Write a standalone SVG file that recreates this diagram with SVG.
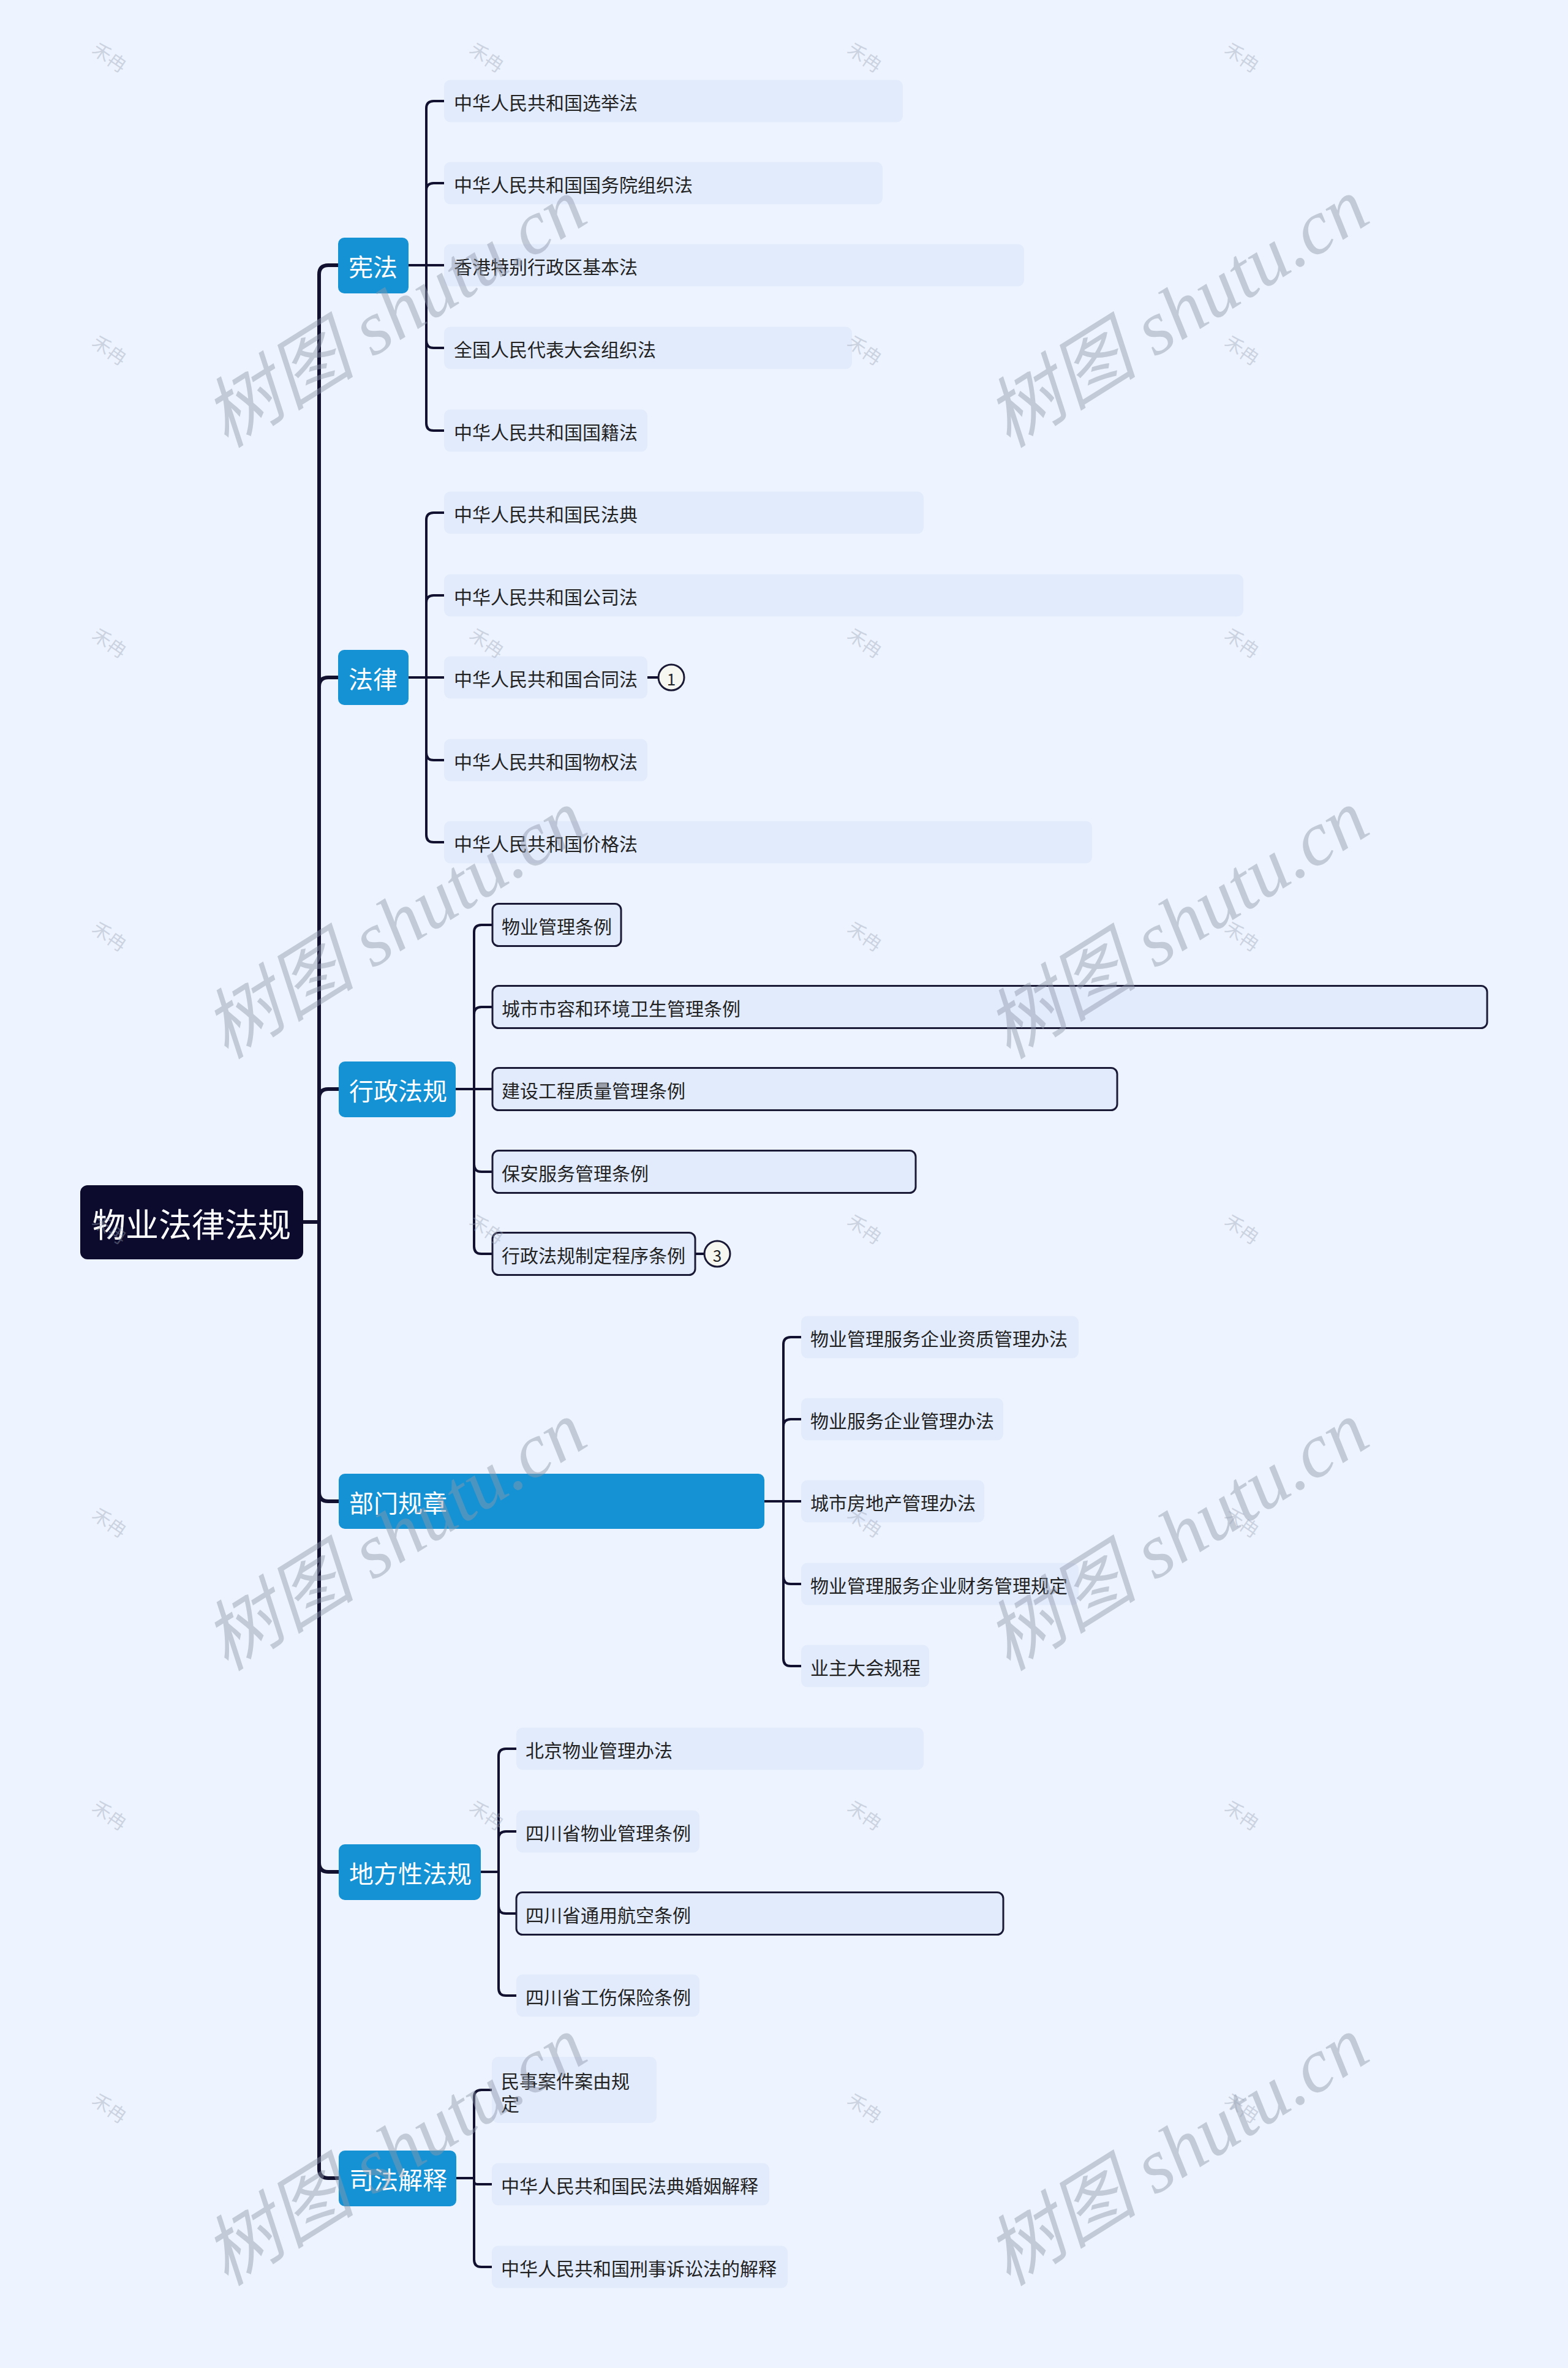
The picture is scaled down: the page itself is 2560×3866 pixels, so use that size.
<svg xmlns="http://www.w3.org/2000/svg" width="2560" height="3866" viewBox="0 0 2560 3866">
<style>
text{font-family:"Noto Sans CJK SC","Noto Sans",sans-serif;dominant-baseline:central}
.root rect{fill:#0d0b2d}
.root text{fill:#ffffff;font-size:54px}
.l1 rect{fill:#1592d4}
.l1 text{fill:#ffffff;font-size:40px}
.l2 rect{fill:#e2ebfc}
.l2.b rect{stroke:#1b1a36;stroke-width:3}
.l2 text{fill:#222222;font-size:30px}
.badge circle{fill:#f7f7f2;stroke:#1b1a36;stroke-width:3}
.badge text{font-size:26px;fill:#222222;text-anchor:middle}
#connectors path{fill:none;stroke:#121130;stroke-linecap:round;stroke-linejoin:round}
#connectors .main{stroke-width:6}
#connectors .sub{stroke-width:4}
.wm{font-family:"Liberation Serif","Noto Sans CJK SC",serif;font-style:italic;font-size:125px;fill:#8f99ab;opacity:.45;text-anchor:middle}
.wm2{font-size:30px;fill:#9aa3b3;opacity:.4;text-anchor:middle}
</style>
<rect x="0" y="0" width="2560" height="3866" fill="#eef4ff"/>

<g id="connectors">
<path class="main" d="M495,1995 H521 V448 Q521,433 536,433 H553"/>
<path class="main" d="M495,1995 H521 V1121 Q521,1106 536,1106 H553"/>
<path class="main" d="M495,1995 H521 V1793 Q521,1778 536,1778 H553"/>
<path class="main" d="M495,1995 H521 V2436 Q521,2451 536,2451 H553"/>
<path class="main" d="M495,1995 H521 V3041 Q521,3056 536,3056 H553"/>
<path class="main" d="M495,1995 H521 V3541 Q521,3556 536,3556 H553"/>

<path class="sub" d="M667,433 H696 V177 Q696,165 708,165 H725"/>
<path class="sub" d="M667,433 H696 V311 Q696,299 708,299 H725"/>
<path class="sub" d="M667,433 H725"/>
<path class="sub" d="M667,433 H696 V556 Q696,568 708,568 H725"/>
<path class="sub" d="M667,433 H696 V691 Q696,703 708,703 H725"/>

<path class="sub" d="M667,1106 H696 V849 Q696,837 708,837 H725"/>
<path class="sub" d="M667,1106 H696 V984 Q696,972 708,972 H725"/>
<path class="sub" d="M667,1106 H725"/>
<path class="sub" d="M667,1106 H696 V1229 Q696,1241 708,1241 H725"/>
<path class="sub" d="M667,1106 H696 V1363 Q696,1375 708,1375 H725"/>
<path class="sub" d="M1057,1106 H1075"/>

<path class="sub" d="M744,1778 H774 V1522 Q774,1510 786,1510 H804"/>
<path class="sub" d="M744,1778 H774 V1656 Q774,1644 786,1644 H804"/>
<path class="sub" d="M744,1778 H804"/>
<path class="sub" d="M744,1778 H774 V1901 Q774,1913 786,1913 H804"/>
<path class="sub" d="M744,1778 H774 V2035 Q774,2047 786,2047 H804"/>
<path class="sub" d="M1135,2047 H1150"/>

<path class="sub" d="M1248,2451 H1279 V2195 Q1279,2183 1291,2183 H1308"/>
<path class="sub" d="M1248,2451 H1279 V2329 Q1279,2317 1291,2317 H1308"/>
<path class="sub" d="M1248,2451 H1308"/>
<path class="sub" d="M1248,2451 H1279 V2574 Q1279,2586 1291,2586 H1308"/>
<path class="sub" d="M1248,2451 H1279 V2708 Q1279,2720 1291,2720 H1308"/>

<path class="sub" d="M785,3056 H814 V2867 Q814,2855 826,2855 H843"/>
<path class="sub" d="M785,3056 H814 V3002 Q814,2990 826,2990 H843"/>
<path class="sub" d="M785,3056 H814 V3112 Q814,3124 826,3124 H843"/>
<path class="sub" d="M785,3056 H814 V3246 Q814,3258 826,3258 H843"/>

<path class="sub" d="M745,3556 H774 V3424 Q774,3412 786,3412 H803"/>
<path class="sub" d="M745,3556 H774 V3561 Q774,3566 779,3566 H803"/>
<path class="sub" d="M745,3556 H774 V3689 Q774,3701 786,3701 H803"/>
</g>

<g id="root" class="root"><rect x="131" y="1935" width="364" height="121" rx="12"/><text x="151" y="1996">物业法律法规</text></g>

<g id="n-xianfa" class="l1"><rect x="552" y="388" width="115" height="91" rx="10"/><text x="569" y="434">宪法</text></g>
<g id="n-falv" class="l1"><rect x="552" y="1061" width="115" height="90" rx="10"/><text x="569" y="1107">法律</text></g>
<g id="n-xingzheng" class="l1"><rect x="553" y="1733" width="191" height="91" rx="10"/><text x="570" y="1779">行政法规</text></g>
<g id="n-bumen" class="l1"><rect x="553" y="2406" width="695" height="90" rx="10"/><text x="570" y="2452">部门规章</text></g>
<g id="n-difang" class="l1"><rect x="553" y="3011" width="232" height="91" rx="10"/><text x="570" y="3057">地方性法规</text></g>
<g id="n-sifa" class="l1"><rect x="553" y="3511" width="192" height="91" rx="10"/><text x="570" y="3557">司法解释</text></g>

<g id="c1" class="l2"><rect x="725" y="130.5" width="749" height="69" rx="10"/><text x="741" y="166">中华人民共和国选举法</text></g>
<g id="c2" class="l2"><rect x="725" y="264.5" width="716" height="69" rx="10"/><text x="741" y="300">中华人民共和国国务院组织法</text></g>
<g id="c3" class="l2"><rect x="725" y="398.5" width="947" height="69" rx="10"/><text x="741" y="434">香港特别行政区基本法</text></g>
<g id="c4" class="l2"><rect x="725" y="533.5" width="666" height="69" rx="10"/><text x="741" y="569">全国人民代表大会组织法</text></g>
<g id="c5" class="l2"><rect x="725" y="668.5" width="332" height="69" rx="10"/><text x="741" y="704">中华人民共和国国籍法</text></g>

<g id="c6" class="l2"><rect x="725" y="802.5" width="783" height="69" rx="10"/><text x="741" y="838">中华人民共和国民法典</text></g>
<g id="c7" class="l2"><rect x="725" y="937.5" width="1305" height="69" rx="10"/><text x="741" y="973">中华人民共和国公司法</text></g>
<g id="c8" class="l2"><rect x="725" y="1071.5" width="332" height="69" rx="10"/><text x="741" y="1107">中华人民共和国合同法</text></g>
<g id="c9" class="l2"><rect x="725" y="1206.5" width="332" height="69" rx="10"/><text x="741" y="1242">中华人民共和国物权法</text></g>
<g id="c10" class="l2"><rect x="725" y="1340.5" width="1058" height="69" rx="10"/><text x="741" y="1376">中华人民共和国价格法</text></g>
<g id="badge1" class="badge"><circle cx="1096" cy="1106" r="21"/><text x="1096" y="1107">1</text></g>

<g id="c11" class="l2 b"><rect x="804" y="1475.5" width="210" height="69" rx="10"/><text x="819" y="1511">物业管理条例</text></g>
<g id="c12" class="l2 b"><rect x="804" y="1609.5" width="1624" height="69" rx="10"/><text x="819" y="1645">城市市容和环境卫生管理条例</text></g>
<g id="c13" class="l2 b"><rect x="804" y="1743.5" width="1020" height="69" rx="10"/><text x="819" y="1779">建设工程质量管理条例</text></g>
<g id="c14" class="l2 b"><rect x="804" y="1878.5" width="691" height="69" rx="10"/><text x="819" y="1914">保安服务管理条例</text></g>
<g id="c15" class="l2 b"><rect x="804" y="2012.5" width="331" height="69" rx="10"/><text x="819" y="2048">行政法规制定程序条例</text></g>
<g id="badge3" class="badge"><circle cx="1171" cy="2047" r="21"/><text x="1171" y="2048">3</text></g>

<g id="c16" class="l2"><rect x="1308" y="2148.5" width="453" height="69" rx="10"/><text x="1323" y="2184">物业管理服务企业资质管理办法</text></g>
<g id="c17" class="l2"><rect x="1308" y="2282.5" width="330" height="69" rx="10"/><text x="1323" y="2318">物业服务企业管理办法</text></g>
<g id="c18" class="l2"><rect x="1308" y="2416.5" width="299" height="69" rx="10"/><text x="1323" y="2452">城市房地产管理办法</text></g>
<g id="c19" class="l2"><rect x="1308" y="2551.5" width="453" height="69" rx="10"/><text x="1323" y="2587">物业管理服务企业财务管理规定</text></g>
<g id="c20" class="l2"><rect x="1308" y="2685.5" width="209" height="69" rx="10"/><text x="1323" y="2721">业主大会规程</text></g>

<g id="c21" class="l2"><rect x="843" y="2820.5" width="665" height="69" rx="10"/><text x="858" y="2856">北京物业管理办法</text></g>
<g id="c22" class="l2"><rect x="843" y="2955.5" width="299" height="69" rx="10"/><text x="858" y="2991">四川省物业管理条例</text></g>
<g id="c23" class="l2 b"><rect x="843" y="3089.5" width="795" height="69" rx="10"/><text x="858" y="3125">四川省通用航空条例</text></g>
<g id="c24" class="l2"><rect x="843" y="3223.5" width="299" height="69" rx="10"/><text x="858" y="3259">四川省工伤保险条例</text></g>

<g id="c25" class="l2"><rect x="803" y="3358" width="269" height="108" rx="10"/><text x="818" y="3396">民事案件案由规</text><text x="818" y="3433">定</text></g>
<g id="c26" class="l2"><rect x="803" y="3531.5" width="453" height="69" rx="10"/><text x="818" y="3567">中华人民共和国民法典婚姻解释</text></g>
<g id="c27" class="l2"><rect x="803" y="3666.5" width="483" height="69" rx="10"/><text x="818" y="3702">中华人民共和国刑事诉讼法的解释</text></g>

<g id="watermarks">
<text class="wm" x="645" y="511" transform="rotate(-32 645 511)">树图 shutu.cn</text>
<text class="wm" x="1922" y="511" transform="rotate(-32 1922 511)">树图 shutu.cn</text>
<text class="wm" x="645" y="1509" transform="rotate(-32 645 1509)">树图 shutu.cn</text>
<text class="wm" x="1922" y="1509" transform="rotate(-32 1922 1509)">树图 shutu.cn</text>
<text class="wm" x="645" y="2508" transform="rotate(-32 645 2508)">树图 shutu.cn</text>
<text class="wm" x="1922" y="2508" transform="rotate(-32 1922 2508)">树图 shutu.cn</text>
<text class="wm" x="645" y="3512" transform="rotate(-32 645 3512)">树图 shutu.cn</text>
<text class="wm" x="1922" y="3512" transform="rotate(-32 1922 3512)">树图 shutu.cn</text>
<text class="wm2" x="180" y="92" transform="rotate(35 180 92)">禾冉</text>
<text class="wm2" x="796" y="92" transform="rotate(35 796 92)">禾冉</text>
<text class="wm2" x="1413" y="92" transform="rotate(35 1413 92)">禾冉</text>
<text class="wm2" x="2029" y="92" transform="rotate(35 2029 92)">禾冉</text>
<text class="wm2" x="180" y="570" transform="rotate(35 180 570)">禾冉</text>
<text class="wm2" x="1413" y="570" transform="rotate(35 1413 570)">禾冉</text>
<text class="wm2" x="2029" y="570" transform="rotate(35 2029 570)">禾冉</text>
<text class="wm2" x="180" y="1048" transform="rotate(35 180 1048)">禾冉</text>
<text class="wm2" x="796" y="1048" transform="rotate(35 796 1048)">禾冉</text>
<text class="wm2" x="1413" y="1048" transform="rotate(35 1413 1048)">禾冉</text>
<text class="wm2" x="2029" y="1048" transform="rotate(35 2029 1048)">禾冉</text>
<text class="wm2" x="180" y="1527" transform="rotate(35 180 1527)">禾冉</text>
<text class="wm2" x="1413" y="1527" transform="rotate(35 1413 1527)">禾冉</text>
<text class="wm2" x="2029" y="1527" transform="rotate(35 2029 1527)">禾冉</text>
<text class="wm2" x="180" y="2005" transform="rotate(35 180 2005)">禾冉</text>
<text class="wm2" x="796" y="2005" transform="rotate(35 796 2005)">禾冉</text>
<text class="wm2" x="1413" y="2005" transform="rotate(35 1413 2005)">禾冉</text>
<text class="wm2" x="2029" y="2005" transform="rotate(35 2029 2005)">禾冉</text>
<text class="wm2" x="180" y="2484" transform="rotate(35 180 2484)">禾冉</text>
<text class="wm2" x="1413" y="2484" transform="rotate(35 1413 2484)">禾冉</text>
<text class="wm2" x="2029" y="2484" transform="rotate(35 2029 2484)">禾冉</text>
<text class="wm2" x="180" y="2962" transform="rotate(35 180 2962)">禾冉</text>
<text class="wm2" x="796" y="2962" transform="rotate(35 796 2962)">禾冉</text>
<text class="wm2" x="1413" y="2962" transform="rotate(35 1413 2962)">禾冉</text>
<text class="wm2" x="2029" y="2962" transform="rotate(35 2029 2962)">禾冉</text>
<text class="wm2" x="180" y="3440" transform="rotate(35 180 3440)">禾冉</text>
<text class="wm2" x="1413" y="3440" transform="rotate(35 1413 3440)">禾冉</text>
<text class="wm2" x="2029" y="3440" transform="rotate(35 2029 3440)">禾冉</text>
</g>
</svg>
